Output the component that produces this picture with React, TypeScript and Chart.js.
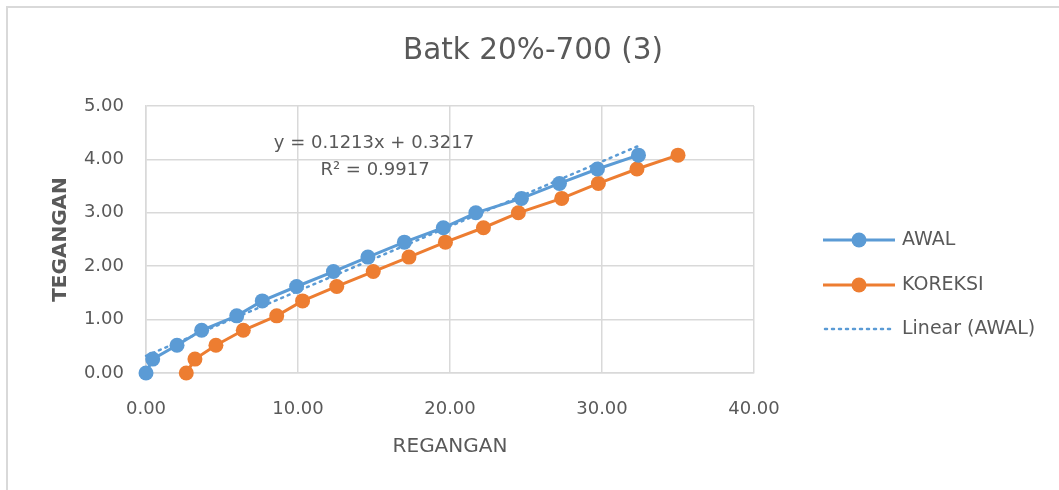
import React, { useEffect, useRef } from 'react';
import { Chart, registerables } from 'chart.js';

Chart.register(...registerables);

// ---------- data ----------
const TITLE = 'Batk 20%-700 (3)';
const X_TITLE = 'REGANGAN';
const Y_TITLE = 'TEGANGAN';
const SERIES_NAMES = ['AWAL', 'KOREKSI', 'Linear (AWAL)'];

const AWAL_X = [0, 0.44, 2.04, 3.66, 5.97, 7.65, 9.91, 12.33, 14.6, 17.0, 19.56, 21.7, 24.7, 27.2, 29.7, 32.4];
const AWAL_Y = [0, 0.26, 0.52, 0.8, 1.07, 1.35, 1.62, 1.9, 2.17, 2.45, 2.72, 3.0, 3.27, 3.55, 3.82, 4.08];
const KOREKSI_X = [2.65, 3.22, 4.6, 6.4, 8.6, 10.3, 12.55, 14.95, 17.3, 19.7, 22.2, 24.5, 27.35, 29.76, 32.3, 35.0];
const KOREKSI_Y = [0, 0.26, 0.52, 0.8, 1.07, 1.35, 1.62, 1.9, 2.17, 2.45, 2.72, 3.0, 3.27, 3.55, 3.82, 4.08];

const TREND_SLOPE = 0.1213;
const TREND_INTERCEPT = 0.3217;
const EQUATION_LINES = ['y = 0.1213x + 0.3217', 'R² = 0.9917'];

const X_MIN = 0, X_MAX = 40, X_STEP = 10;
const Y_MIN = 0, Y_MAX = 5, Y_STEP = 1;

// ---------- styles ----------
const FONT = '"DejaVu Sans", sans-serif';
const BLUE = '#5B9BD5';
const ORANGE = '#ED7D31';
const TEXT = '#595959';
const GRID = '#D9D9D9';
const W = 1059;
const H = 490;

const decorPlugin = {
  id: 'decor',
  beforeDraw(chart: any) {
    const ctx = chart.ctx;
    ctx.save();
    ctx.strokeStyle = GRID;
    ctx.lineWidth = 2;
    ctx.beginPath();
    ctx.moveTo(7, H);
    ctx.lineTo(7, 7);
    ctx.lineTo(W, 7);
    ctx.stroke();
    ctx.restore();
  },
  afterDraw(chart: any) {
    const ctx = chart.ctx;
    ctx.save();
    // title
    ctx.fillStyle = TEXT;
    ctx.font = `29.5px ${FONT}`;
    ctx.textAlign = 'center';
    ctx.textBaseline = 'middle';
    ctx.fillText(TITLE, 533, 51);
    // legend
    const colors = [BLUE, ORANGE, BLUE];
    const rowY = [240, 285, 329];
    const x0 = 823, x1 = 895, tx = 902;
    SERIES_NAMES.forEach((name, i) => {
      const y = rowY[i];
      ctx.strokeStyle = colors[i];
      ctx.fillStyle = colors[i];
      if (i < 2) {
        ctx.setLineDash([]);
        ctx.lineWidth = 3;
        ctx.beginPath();
        ctx.moveTo(x0, y);
        ctx.lineTo(x1, y);
        ctx.stroke();
        ctx.beginPath();
        ctx.arc((x0 + x1) / 2, y, 7.5, 0, Math.PI * 2);
        ctx.fill();
      } else {
        ctx.setLineDash([2, 5]);
        ctx.lineCap = 'round';
        ctx.lineWidth = 2.5;
        ctx.beginPath();
        ctx.moveTo(x0 + 2, y);
        ctx.lineTo(x1, y);
        ctx.stroke();
        ctx.setLineDash([]);
        ctx.lineCap = 'butt';
      }
      ctx.fillStyle = TEXT;
      ctx.font = `19px ${FONT}`;
      ctx.textAlign = 'left';
      ctx.textBaseline = 'middle';
      ctx.fillText(name, tx, y);
    });
    // trendline equation
    ctx.fillStyle = TEXT;
    ctx.font = `18px ${FONT}`;
    ctx.textAlign = 'center';
    ctx.textBaseline = 'middle';
    ctx.fillText(EQUATION_LINES[0], 374, 143);
    ctx.fillText(EQUATION_LINES[1], 375, 170);
    ctx.restore();
  },
};

export default function App() {
  const ref = useRef<HTMLCanvasElement | null>(null);

  useEffect(() => {
    if (!ref.current) return;
    const trendXs = [Math.min(...AWAL_X), Math.max(...AWAL_X)];
    const chart = new Chart(ref.current, {
      type: 'scatter',
      data: {
        datasets: [
          {
            label: SERIES_NAMES[0],
            data: AWAL_X.map((x, i) => ({ x, y: AWAL_Y[i] })),
            showLine: true,
            borderColor: BLUE,
            backgroundColor: BLUE,
            borderWidth: 3,
            pointRadius: 7.5,
            pointBorderWidth: 0,
            pointHoverRadius: 7.5,
            clip: false,
          },
          {
            label: SERIES_NAMES[1],
            data: KOREKSI_X.map((x, i) => ({ x, y: KOREKSI_Y[i] })),
            showLine: true,
            borderColor: ORANGE,
            backgroundColor: ORANGE,
            borderWidth: 3,
            pointRadius: 7.5,
            pointBorderWidth: 0,
            pointHoverRadius: 7.5,
            clip: false,
          },
          {
            label: SERIES_NAMES[2],
            data: trendXs.map((x) => ({ x, y: TREND_SLOPE * x + TREND_INTERCEPT })),
            showLine: true,
            borderColor: BLUE,
            backgroundColor: BLUE,
            borderWidth: 2.5,
            borderDash: [2, 5],
            borderCapStyle: 'round',
            pointRadius: 0,
            clip: false,
          },
        ],
      },
      options: {
        responsive: false,
        animation: false,
        layout: { padding: { left: 0, right: W - 754, top: 106, bottom: 0 } },
        plugins: {
          legend: { display: false },
          tooltip: { enabled: false },
          title: { display: false },
        },
        scales: {
          x: {
            type: 'linear',
            min: X_MIN,
            max: X_MAX,
            afterFit: (s: any) => { s.height = H - 373; },
            ticks: {
              stepSize: X_STEP,
              color: TEXT,
              padding: 26,
              font: { family: FONT, size: 18 },
              callback: (v: any) => Number(v).toFixed(2),
            },
            grid: { color: GRID, lineWidth: 1.5, drawTicks: false },
            border: { color: GRID, width: 1.5 },
            title: {
              display: true,
              text: X_TITLE,
              color: TEXT,
              font: { family: FONT, size: 20, weight: 'normal' },
              padding: { top: 0, bottom: 31 },
            },
          },
          y: {
            type: 'linear',
            min: Y_MIN,
            max: Y_MAX,
            afterFit: (s: any) => { s.width = 146; },
            ticks: {
              stepSize: Y_STEP,
              color: TEXT,
              padding: 22,
              font: { family: FONT, size: 18 },
              callback: (v: any) => Number(v).toFixed(2),
            },
            grid: { color: GRID, lineWidth: 1.5, drawTicks: false },
            border: { color: GRID, width: 1.5 },
            title: {
              display: true,
              text: Y_TITLE,
              color: TEXT,
              font: { family: FONT, size: 20, weight: 'bold' },
              padding: { top: 49, bottom: 0 },
            },
          },
        },
      },
      plugins: [decorPlugin],
    } as any);
    return () => chart.destroy();
  }, []);

  return (
    <div style={{ position: 'fixed', left: 0, top: 0, width: W, height: H, background: '#fff' }}>
      <canvas ref={ref} width={W} height={H} style={{ display: 'block' }} />
    </div>
  );
}
